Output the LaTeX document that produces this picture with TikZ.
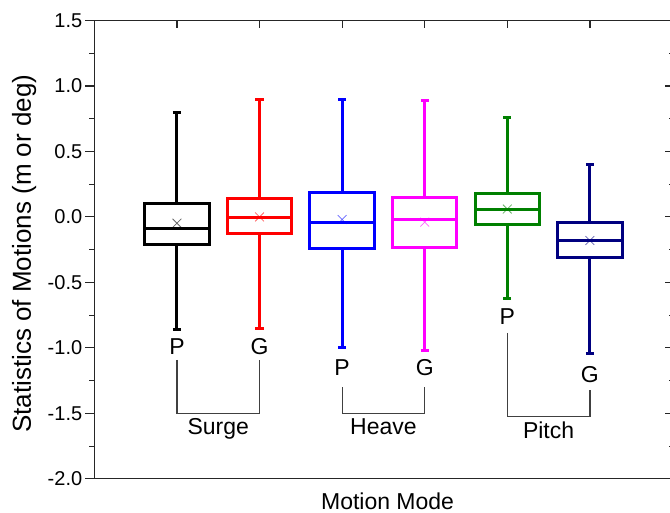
\documentclass[tikz,border=0pt]{standalone}
\usepackage{fontspec}
\setmainfont{Liberation Sans}
\usetikzlibrary{positioning, shapes.misc}
\definecolor{navy}{RGB}{0,0,128}
\definecolor{leafgreen}{RGB}{0,128,0}
\definecolor{fuchsia}{RGB}{255,0,255}
\definecolor{pure red}{RGB}{255,0,0}
\definecolor{pure blue}{RGB}{0,0,255}
\newcommand{\fsize}[1]{\fontsize{#1}{#1}\selectfont}
% x, colour, low, q1, median, q3, high, mean
\newcommand{\motionbox}[8]{
    \draw[box, #2] (#1-0.39,#4) rectangle (#1+0.39,#6);
    \draw[box, #2] (#1-0.39,#5) -- (#1+0.39,#5);
    \draw[box, #2] (#1,#6) -- (#1,#7) (#1-0.05,#7) -- (#1+0.05,#7);
    \draw[box, #2] (#1,#4) -- (#1,#3) (#1-0.05,#3) -- (#1+0.05,#3);
    \node[meanmark, #2] (m#1) at (#1,#8) {};
}

\begin{document}
\begin{tikzpicture}[x=82.6pt, y=131pt,
    axis/.style={line width=1.2pt, black!85},
    box/.style={line width=3pt},
    meanmark/.style={cross out, draw, draw opacity=0.6, minimum size=8pt, inner sep=0pt, line width=0.8pt},
    bracket/.style={line width=1.2pt, black!75},
    mode/.style={font=\fsize{23}, inner sep=5pt}]
    \useasboundingbox (-1.143,-2.26) rectangle (6.97,1.656);

    % frame and ticks
    \draw[axis] (0,-2) rectangle (7,1.5);
    \foreach \v [count=\i] in {-2.0,-1.5,-1.0,-0.5,0.0,0.5,1.0,1.5} {
        \draw[axis] (0,\v) -- ++(-9pt,0) (7,\v) -- ++(-7pt,0);
        \node[anchor=east, font=\fsize{20}, inner sep=3pt] (t\i) at ([xshift=-9pt]0,\v) {\v};
    }
    \foreach \v in {-1.75,-1.25,-0.75,-0.25,0.25,0.75,1.25}
        \draw[axis] (0,\v) -- ++(-5pt,0) (7,\v) -- ++(-3.5pt,0);
    \foreach \x in {1,...,6}
        \draw[axis] (\x,1.5) -- ++(0,-8pt);

    % boxes
    \motionbox{1}{black}{-0.863}{-0.21}{-0.092}{0.105}{0.80}{-0.048}
    \motionbox{2}{pure red}{-0.85}{-0.13}{-0.005}{0.137}{0.893}{0.0}
    \motionbox{3}{pure blue}{-1.00}{-0.24}{-0.04}{0.19}{0.90}{-0.02}
    \motionbox{4}{fuchsia}{-1.02}{-0.23}{-0.02}{0.15}{0.89}{-0.04}
    \motionbox{5}{leafgreen}{-0.62}{-0.055}{0.06}{0.175}{0.76}{0.06}
    \motionbox{6}{navy}{-1.04}{-0.31}{-0.18}{-0.04}{0.40}{-0.18}

    % P / G labels and groups
    \node[mode] (p1) at (1, -0.992) {P};
    \node[mode] (g1) at (2, -0.992) {G};
    \node[mode] (p2) at (3, -1.153) {P};
    \node[mode] (g2) at (4, -1.153) {G};
    \node[mode] (p3) at (5, -0.763) {P};
    \node[mode] (g3) at (6, -1.206) {G};
    \coordinate (sb) at (1.5, -1.5);
    \coordinate (hb) at (3.5, -1.5);
    \coordinate (pb) at (5.5, -1.527);
    \draw[bracket] (p1.south) |- (sb) -| (g1.south);
    \draw[bracket, shorten <=6pt, shorten >=6pt] (p2.south) |- (hb) -| (g2.south);
    \draw[bracket, shorten <=3pt, shorten >=2pt] (p3.south) |- (pb) -| (g3.south);
    \node[mode, below=0pt of sb] (surge) {Surge};
    \node[mode, below=0pt of hb] (heave) {Heave};
    \node[mode, below=0pt of pb] (pitch) {Pitch};

    % axis titles
    \node[font=\fsize{23}, inner sep=0pt] (xlabel) at (3.55,-2.168) {Motion Mode};
    \node[font=\fsize{26}, rotate=90] (ylabel) at (-0.852,-0.282) {Statistics of Motions (m or deg)};
\end{tikzpicture}
\end{document}
